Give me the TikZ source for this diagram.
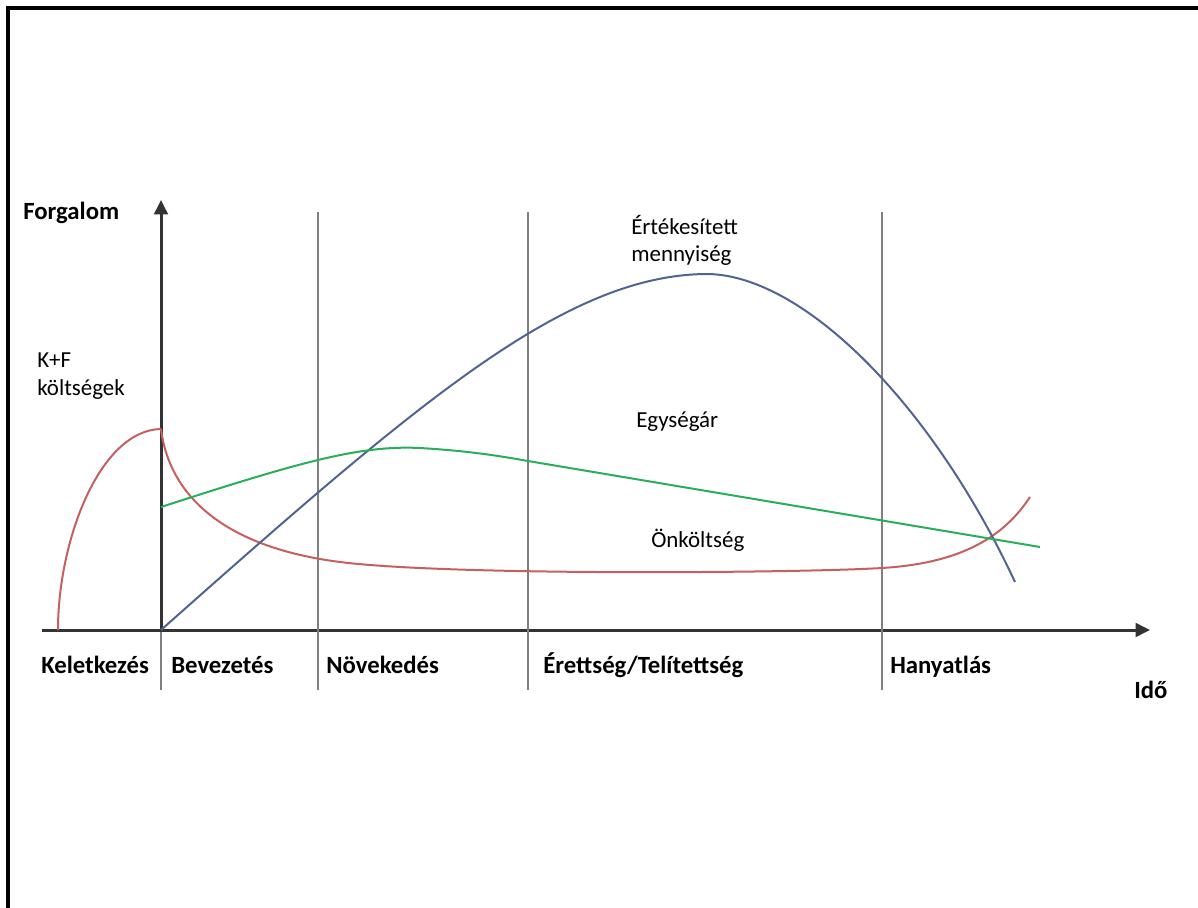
\documentclass[tikz,border=0pt]{standalone}
\usepackage{fontspec}
\setmainfont{Carlito}
\usetikzlibrary{arrows.meta}
\definecolor{kfred}{RGB}{200,95,95}
\definecolor{qtyblue}{RGB}{80,100,145}
\definecolor{prgreen}{RGB}{40,175,90}

\begin{document}
\begin{tikzpicture}[x=0.025cm, y=-0.025cm,
  axis/.style={line width=0.075cm, draw=black!80, -{Triangle[length=0.36cm, width=0.34cm]}},
  phase/.style={line width=0.05cm, draw=black!50},
  curve/.style={line width=0.05cm},
  bold/.style={font=\fontsize{17.6}{20}\selectfont\bfseries, inner sep=0pt},
  lbl/.style={font=\fontsize{16.3}{19.4}\selectfont, inner sep=0pt, align=left}]
\useasboundingbox (0,0) rectangle (1198,908);
\draw[line width=0.08cm] (8,908) -- (8,8) -- (1198,8);
% axes
\coordinate (O) at (161,630);
\coordinate (xstart) at (42,630);
\coordinate (xend) at (1150,630);
\coordinate (yend) at (161,200);
\coordinate (ybot) at (161,690);
\draw[phase] (O) -- (ybot);
\draw[axis] (xstart) -- (xend);
\draw[axis] (O) -- (yend);
% phase borders
\foreach \x in {318, 528, 882} \draw[phase] (\x,212) -- (\x,690);
% K+F costs and unit cost
\draw[curve, kfred] (58,630) .. controls (58,540) and (100,430) .. (161,429);
\draw[curve, kfred] (161,429) .. controls (170,500) and (230,548) .. (340,562)
  .. controls (450,576) and (800,573) .. (882,568)
  .. controls (964,563) and (1005,535) .. (1030,497);
% quantity sold
\draw[curve, qtyblue] (O) .. controls (420,400) and (565,276) .. (705,274)
  .. controls (800,273) and (930,400) .. (1015,582);
% unit price
\draw[curve, prgreen] (161,507) .. controls (300,462) and (360,445) .. (420,448)
  .. controls (470,451) and (500,456) .. (528,461) -- (1040,547);
% labels
\node[bold, anchor=base west] (forg) at (23,219) {Forgalom};
\node[lbl, anchor=north west] (kf) at (37,353) {K+F\\költségek};
\node[lbl, anchor=north west] (qty) at (631,215) {Értékesített\\mennyiség};
\node[lbl, anchor=base west] (price) at (636,427) {Egységár};
\node[lbl, anchor=base west] (cost) at (651,547) {Önköltség};
\node[bold, anchor=base west] (ph0) at (41,673) {Keletkezés};
\node[bold, anchor=base west] (ph1) at (171,673) {Bevezetés};
\node[bold, anchor=base west] (ph2) at (326,673) {Növekedés};
\node[bold, anchor=base west] (ph3) at (543,673) {Érettség/Telítettség};
\node[bold, anchor=base west] (ph4) at (890,673) {Hanyatlás};
\node[bold, anchor=base west] (time) at (1134,698) {Idő};
\end{tikzpicture}
\end{document}
